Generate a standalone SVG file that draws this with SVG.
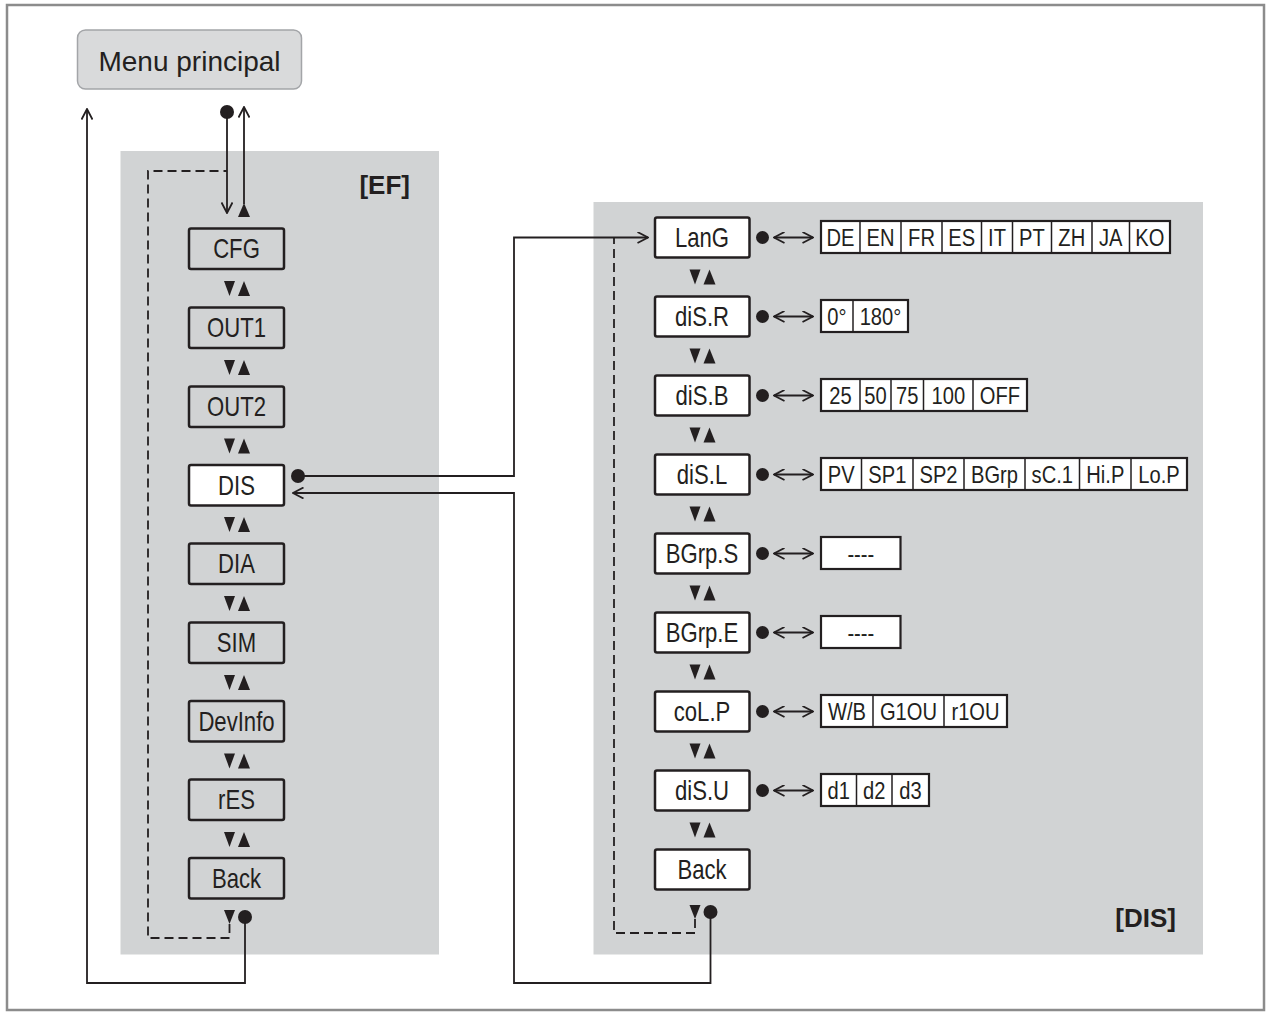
<svg xmlns="http://www.w3.org/2000/svg" xmlns:xlink="http://www.w3.org/1999/xlink" width="1268" height="1012" viewBox="0 0 1268 1012">
<style>
.panel{fill:#d1d3d4}
.box{stroke:#231f20;stroke-width:2.5}
.gbox{fill:#d1d3d4}
.wbox{fill:#ffffff}
.strip{fill:#ffffff;stroke:#231f20;stroke-width:2.2}
.div{stroke:#231f20;stroke-width:1.5}
.n{font-family:"Liberation Sans",Arial,sans-serif;font-size:27px;text-anchor:middle;fill:#231f20}
.o{font-family:"Liberation Sans",Arial,sans-serif;font-size:24px;text-anchor:middle;fill:#231f20}
.t{font-family:"Liberation Sans",Arial,sans-serif;font-size:26px;font-weight:bold;text-anchor:end;fill:#231f20}
.m{font-family:"Liberation Sans",Arial,sans-serif;font-size:28px;text-anchor:middle;fill:#231f20}
.c{fill:none;stroke:#231f20;stroke-width:1.8}
.d{fill:none;stroke:#231f20;stroke-width:1.8;stroke-dasharray:9 5}
.dot{fill:#231f20}
.tri{fill:#231f20}
</style>
<defs>
<marker id="ar" viewBox="0 0 12 12" refX="11" refY="6" markerWidth="12" markerHeight="12" orient="auto-start-reverse" markerUnits="userSpaceOnUse">
<path d="M0.5,0.5 L11,6 L0.5,11.5" fill="none" stroke="#231f20" stroke-width="1.8"/>
</marker>
<g id="pair">
<polygon class="tri" points="0,0 11,0 5.5,15"/>
<polygon class="tri" points="14,15 26,15 20,0"/>
</g>
<polygon id="dn" class="tri" points="0,0 11,0 5.5,14"/>
</defs>

<rect x="7" y="5" width="1257" height="1005" fill="#ffffff" stroke="#8c8c8c" stroke-width="2.5"/>

<g id="menu-principal">
<rect x="77.5" y="30" width="224" height="59" rx="8" fill="#d9dadb" stroke="#a3a5a8" stroke-width="1.5"/>
<text class="m" x="189.5" y="71">Menu principal</text>
</g>

<g id="panel-EF">
<rect class="panel" x="120.5" y="151" width="318.5" height="803.5"/>
<text class="t" x="410" y="194">[EF]</text>
</g>
<g id="panel-DIS">
<rect class="panel" x="593.5" y="202" width="609.5" height="752.5"/>
<text class="t" x="1176" y="927">[DIS]</text>
</g>

<!-- left column nodes -->
<g id="ef-cfg"><rect class="box gbox" x="189" y="228.5" width="95" height="40.5" rx="2"/><text class="n" transform="translate(236.5 258) scale(0.82 1)">CFG</text></g>
<g id="ef-out1"><rect class="box gbox" x="189" y="307.5" width="95" height="40.5" rx="2"/><text class="n" transform="translate(236.5 337) scale(0.82 1)">OUT1</text></g>
<g id="ef-out2"><rect class="box gbox" x="189" y="386.5" width="95" height="40.5" rx="2"/><text class="n" transform="translate(236.5 416) scale(0.82 1)">OUT2</text></g>
<g id="ef-dis"><rect class="box wbox" x="189" y="465" width="95" height="40.5" rx="2"/><text class="n" transform="translate(236.5 494.5) scale(0.82 1)">DIS</text></g>
<g id="ef-dia"><rect class="box gbox" x="189" y="543.5" width="95" height="40.5" rx="2"/><text class="n" transform="translate(236.5 573) scale(0.82 1)">DIA</text></g>
<g id="ef-sim"><rect class="box gbox" x="189" y="622.5" width="95" height="40.5" rx="2"/><text class="n" transform="translate(236.5 652) scale(0.82 1)">SIM</text></g>
<g id="ef-devinfo"><rect class="box gbox" x="189" y="701" width="95" height="40.5" rx="2"/><text class="n" transform="translate(236.5 730.5) scale(0.82 1)">DevInfo</text></g>
<g id="ef-res"><rect class="box gbox" x="189" y="779.5" width="95" height="40.5" rx="2"/><text class="n" transform="translate(236.5 809) scale(0.82 1)">rES</text></g>
<g id="ef-back"><rect class="box gbox" x="189" y="858" width="95" height="40.5" rx="2"/><text class="n" transform="translate(236.5 887.5) scale(0.82 1)">Back</text></g>

<g id="ef-nav">
<use xlink:href="#pair" x="224" y="281"/>
<use xlink:href="#pair" x="224" y="360"/>
<use xlink:href="#pair" x="224" y="438.5"/>
<use xlink:href="#pair" x="224" y="517"/>
<use xlink:href="#pair" x="224" y="596"/>
<use xlink:href="#pair" x="224" y="675"/>
<use xlink:href="#pair" x="224" y="753.5"/>
<use xlink:href="#pair" x="224" y="832"/>
<use xlink:href="#dn" x="224" y="910"/>
<circle class="dot" cx="245" cy="917" r="7"/>
<polygon class="tri" points="238,217 250,217 244,203"/>
<circle class="dot" cx="227" cy="112" r="7"/>
<circle class="dot" cx="298" cy="476" r="7"/>
</g>

<!-- right column nodes -->
<g id="dis-lang"><rect class="box wbox" x="655" y="217.5" width="94.5" height="40" rx="2"/><text class="n" transform="translate(702 247) scale(0.82 1)">LanG</text></g>
<g id="dis-disr"><rect class="box wbox" x="655" y="296.5" width="94.5" height="40" rx="2"/><text class="n" transform="translate(702 326) scale(0.82 1)">diS.R</text></g>
<g id="dis-disb"><rect class="box wbox" x="655" y="375.5" width="94.5" height="40" rx="2"/><text class="n" transform="translate(702 405) scale(0.82 1)">diS.B</text></g>
<g id="dis-disl"><rect class="box wbox" x="655" y="454.5" width="94.5" height="40" rx="2"/><text class="n" transform="translate(702 484) scale(0.82 1)">diS.L</text></g>
<g id="dis-bgrps"><rect class="box wbox" x="655" y="533.5" width="94.5" height="40" rx="2"/><text class="n" transform="translate(702 563) scale(0.82 1)">BGrp.S</text></g>
<g id="dis-bgrpe"><rect class="box wbox" x="655" y="612.5" width="94.5" height="40" rx="2"/><text class="n" transform="translate(702 642) scale(0.82 1)">BGrp.E</text></g>
<g id="dis-colp"><rect class="box wbox" x="655" y="691.5" width="94.5" height="40" rx="2"/><text class="n" transform="translate(702 721) scale(0.82 1)">coL.P</text></g>
<g id="dis-disu"><rect class="box wbox" x="655" y="770.5" width="94.5" height="40" rx="2"/><text class="n" transform="translate(702 800) scale(0.82 1)">diS.U</text></g>
<g id="dis-back"><rect class="box wbox" x="655" y="849.5" width="94.5" height="40" rx="2"/><text class="n" transform="translate(702 879) scale(0.82 1)">Back</text></g>

<g id="dis-nav">
<use xlink:href="#pair" x="689.5" y="269.5"/>
<use xlink:href="#pair" x="689.5" y="348.5"/>
<use xlink:href="#pair" x="689.5" y="427.5"/>
<use xlink:href="#pair" x="689.5" y="506.5"/>
<use xlink:href="#pair" x="689.5" y="585.5"/>
<use xlink:href="#pair" x="689.5" y="664.5"/>
<use xlink:href="#pair" x="689.5" y="743.5"/>
<use xlink:href="#pair" x="689.5" y="822.5"/>
<use xlink:href="#dn" x="689.5" y="905"/>
<circle class="dot" cx="710.5" cy="912" r="7"/>
<circle class="dot" cx="762.5" cy="237.5" r="6.5"/>
<circle class="dot" cx="762.5" cy="316.5" r="6.5"/>
<circle class="dot" cx="762.5" cy="395.5" r="6.5"/>
<circle class="dot" cx="762.5" cy="474.5" r="6.5"/>
<circle class="dot" cx="762.5" cy="553.5" r="6.5"/>
<circle class="dot" cx="762.5" cy="632.5" r="6.5"/>
<circle class="dot" cx="762.5" cy="711.5" r="6.5"/>
<circle class="dot" cx="762.5" cy="790.5" r="6.5"/>
</g>

<!-- option strips -->
<g id="opt-lang">
<rect class="strip" x="821" y="221" width="349" height="32"/>
<path class="div" d="M860,221V253M901,221V253M942,221V253M981.5,221V253M1012.5,221V253M1051.5,221V253M1092,221V253M1129.5,221V253"/>
<text class="o" transform="translate(840.5 245.5) scale(0.84 1)">DE</text><text class="o" transform="translate(880.5 245.5) scale(0.84 1)">EN</text><text class="o" transform="translate(921.5 245.5) scale(0.84 1)">FR</text><text class="o" transform="translate(961.8 245.5) scale(0.84 1)">ES</text><text class="o" transform="translate(997 245.5) scale(0.84 1)">IT</text><text class="o" transform="translate(1032 245.5) scale(0.84 1)">PT</text><text class="o" transform="translate(1071.8 245.5) scale(0.84 1)">ZH</text><text class="o" transform="translate(1110.8 245.5) scale(0.84 1)">JA</text><text class="o" transform="translate(1149.8 245.5) scale(0.84 1)">KO</text>
</g>
<g id="opt-disr">
<rect class="strip" x="821" y="300" width="87" height="32"/>
<path class="div" d="M853,300V332"/>
<text class="o" transform="translate(837 324.5) scale(0.84 1)">0°</text><text class="o" transform="translate(880.5 324.5) scale(0.84 1)">180°</text>
</g>
<g id="opt-disb">
<rect class="strip" x="821" y="379" width="206" height="32"/>
<path class="div" d="M860,379V411M891,379V411M923.5,379V411M973,379V411"/>
<text class="o" transform="translate(840.5 403.5) scale(0.84 1)">25</text><text class="o" transform="translate(875.5 403.5) scale(0.84 1)">50</text><text class="o" transform="translate(907.3 403.5) scale(0.84 1)">75</text><text class="o" transform="translate(948.3 403.5) scale(0.84 1)">100</text><text class="o" transform="translate(1000 403.5) scale(0.84 1)">OFF</text>
</g>
<g id="opt-disl">
<rect class="strip" x="821" y="458" width="366" height="32"/>
<path class="div" d="M861.5,458V490M913,458V490M964,458V490M1025,458V490M1079.5,458V490M1131,458V490"/>
<text class="o" transform="translate(841.3 482.5) scale(0.84 1)">PV</text><text class="o" transform="translate(887.3 482.5) scale(0.84 1)">SP1</text><text class="o" transform="translate(938.5 482.5) scale(0.84 1)">SP2</text><text class="o" transform="translate(994.5 482.5) scale(0.84 1)">BGrp</text><text class="o" transform="translate(1052.3 482.5) scale(0.84 1)">sC.1</text><text class="o" transform="translate(1105.3 482.5) scale(0.84 1)">Hi.P</text><text class="o" transform="translate(1159 482.5) scale(0.84 1)">Lo.P</text>
</g>
<g id="opt-bgrps">
<rect class="strip" x="821" y="537" width="79.5" height="32"/>
<text class="o" transform="translate(860.8 561.5) scale(0.84 1)">----</text>
</g>
<g id="opt-bgrpe">
<rect class="strip" x="821" y="616" width="79.5" height="32"/>
<text class="o" transform="translate(860.8 640.5) scale(0.84 1)">----</text>
</g>
<g id="opt-colp">
<rect class="strip" x="821" y="695" width="186" height="32"/>
<path class="div" d="M873,695V727M944,695V727"/>
<text class="o" transform="translate(847 719.5) scale(0.84 1)">W/B</text><text class="o" transform="translate(908.5 719.5) scale(0.84 1)">G1OU</text><text class="o" transform="translate(975.5 719.5) scale(0.84 1)">r1OU</text>
</g>
<g id="opt-disu">
<rect class="strip" x="821" y="774" width="108" height="32"/>
<path class="div" d="M856.5,774V806M892,774V806"/>
<text class="o" transform="translate(838.8 798.5) scale(0.84 1)">d1</text><text class="o" transform="translate(874.3 798.5) scale(0.84 1)">d2</text><text class="o" transform="translate(910.5 798.5) scale(0.84 1)">d3</text>
</g>

<g id="connectors">
<path class="c" d="M245,917V983H87V109" marker-end="url(#ar)"/>
<path class="c" d="M227,112V213" marker-end="url(#ar)"/>
<path class="c" d="M244,204V107" marker-end="url(#ar)"/>
<path class="c" d="M298,476H514V237.5H648" marker-end="url(#ar)"/>
<path class="c" d="M710.5,912V983H514V493H293" marker-end="url(#ar)"/>
<path class="d" d="M229.5,924V938H148V171H227"/>
<path class="d" d="M695,919V933H614V237.5"/>
<path class="c" d="M774,237.5H813" marker-start="url(#ar)" marker-end="url(#ar)"/>
<path class="c" d="M774,316.5H813" marker-start="url(#ar)" marker-end="url(#ar)"/>
<path class="c" d="M774,395.5H813" marker-start="url(#ar)" marker-end="url(#ar)"/>
<path class="c" d="M774,474.5H813" marker-start="url(#ar)" marker-end="url(#ar)"/>
<path class="c" d="M774,553.5H813" marker-start="url(#ar)" marker-end="url(#ar)"/>
<path class="c" d="M774,632.5H813" marker-start="url(#ar)" marker-end="url(#ar)"/>
<path class="c" d="M774,711.5H813" marker-start="url(#ar)" marker-end="url(#ar)"/>
<path class="c" d="M774,790.5H813" marker-start="url(#ar)" marker-end="url(#ar)"/>
</g>
</svg>
